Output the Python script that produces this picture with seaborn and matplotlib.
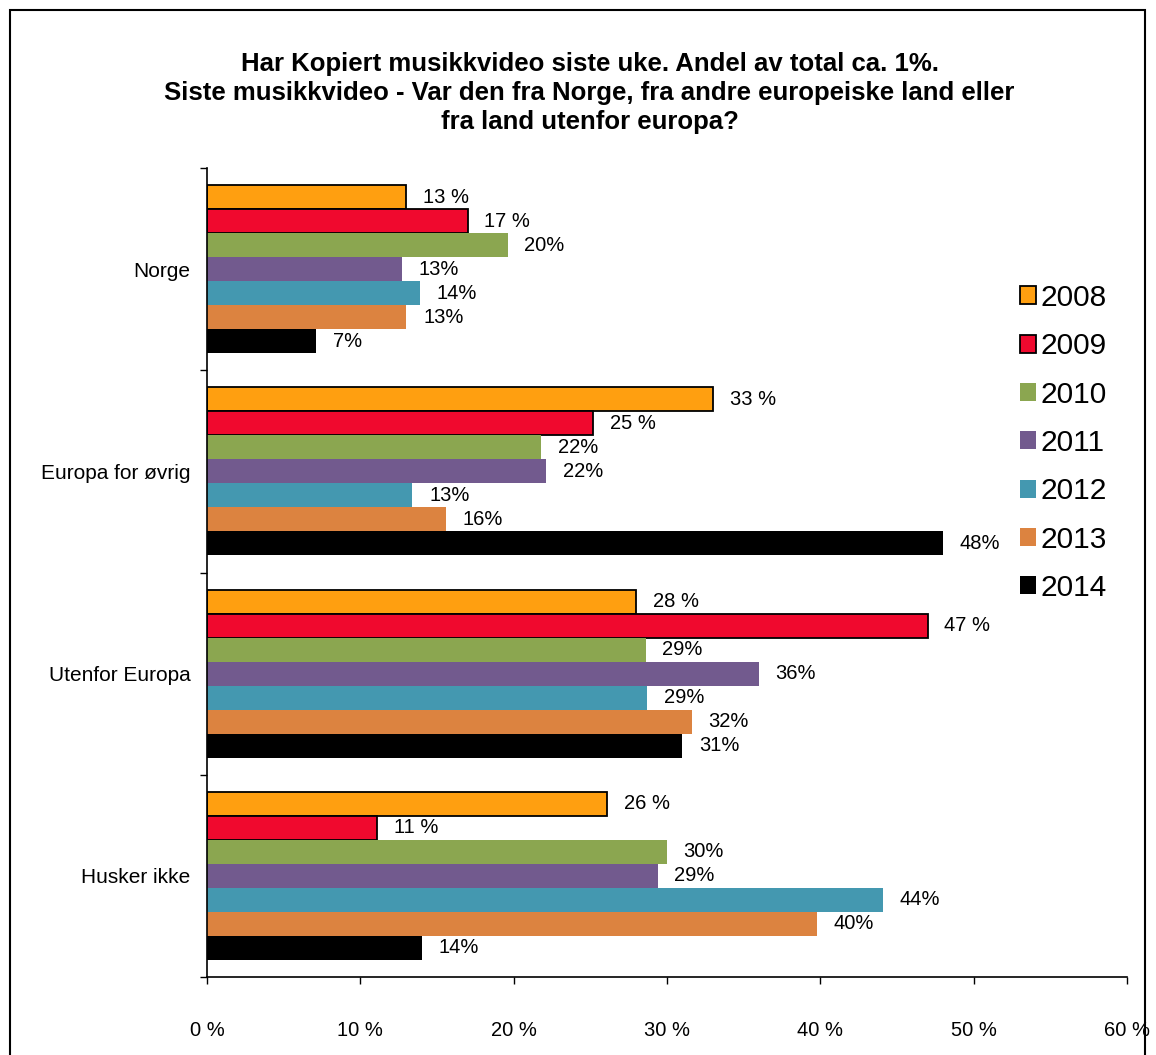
import pandas as pd
import matplotlib.pyplot as plt
import seaborn as sns
from matplotlib.patches import Patch, Rectangle

# Data lest av fra figuren (andel i prosent)
kategorier = ['Norge', 'Europa for øvrig', 'Utenfor Europa', 'Husker ikke']
aar = ['2008', '2009', '2010', '2011', '2012', '2013', '2014']
v2008 = [13.0, 33.0, 28.0, 26.1]
v2009 = [17.0, 25.2, 47.0, 11.1]
v2010 = [19.6, 21.8, 28.6, 30.0]
v2011 = [12.7, 22.1, 36.0, 29.4]
v2012 = [13.9, 13.4, 28.7, 44.1]
v2013 = [13.0, 15.6, 31.6, 39.8]
v2014 = [7.1, 48.0, 31.0, 14.0]
x_ticks = [0, 10, 20, 30, 40, 50, 60]

farger = ['#FF9F10', '#F0092E', '#8BA650', '#725A8E', '#4498B0', '#DC8340', '#000000']

serier = [v2008, v2009, v2010, v2011, v2012, v2013, v2014]
rader = []
for a, vals in zip(aar, serier):
    for k, v in zip(kategorier, vals):
        rader.append({'Kategori': k, 'År': a, 'Andel': v})
df = pd.DataFrame(rader)

sns.set_style('ticks')
plt.rcParams['font.family'] = ['Liberation Sans', 'DejaVu Sans']
plt.rcParams.update({'text.color': 'black', 'xtick.color': 'black',
                     'ytick.color': 'black', 'axes.labelcolor': 'black'})

fig = plt.figure(figsize=(11.56, 10.55), dpi=100)
ax = fig.add_axes([207 / 1156, 1 - 977 / 1055, 920 / 1156, 809 / 1055])

sns.barplot(data=df, y='Kategori', x='Andel', hue='År', order=kategorier, hue_order=aar,
            palette=farger, orient='h', width=0.83, saturation=1, legend=False, ax=ax)

# 2008 og 2009 har svart kant
for i, cont in enumerate(ax.containers):
    for bar in cont:
        if i < 2:
            bar.set_edgecolor('black')
            bar.set_linewidth(1.3)
        else:
            bar.set_edgecolor('none')
    sep = ' %' if i < 2 else '%'
    ax.bar_label(cont, labels=[f'{round(v)}{sep}' for v in serier[i]],
                 padding=12, fontsize=14.5, color='black')

ax.set_xlim(0, 60)
ax.set_ylim(3.5, -0.5)
ax.set_xticks(x_ticks)
ax.set_xticklabels([f'{t} %' for t in x_ticks], fontsize=14.5)
ax.set_yticks([-0.5, 0.5, 1.5, 2.5, 3.5])
ax.set_yticklabels([])
ax.set_yticks([0, 1, 2, 3], minor=True)
ax.set_yticklabels(kategorier, minor=True, fontsize=15)
ax.tick_params(axis='y', which='major', length=5, width=1, direction='out')
ax.tick_params(axis='y', which='minor', length=0, pad=12)
ax.tick_params(axis='x', length=5, width=1, direction='out', pad=27)
ax.set_xlabel('')
ax.set_ylabel('')
sns.despine(ax=ax)
for s in ['left', 'bottom']:
    ax.spines[s].set_color('black')
    ax.spines[s].set_linewidth(1.2)

# Legende
handles = []
for i, (a, f) in enumerate(zip(aar, farger)):
    handles.append(Patch(facecolor=f, edgecolor='black' if i < 2 else f, linewidth=1.3 if i < 2 else 0, label=a))
fig.legend(handles=handles, loc='upper left', bbox_to_anchor=(1020 / 1156, 1 - 284 / 1055),
           frameon=False, fontsize=21.5, handlelength=0.55, handleheight=0.55,
           handletextpad=0.15, labelspacing=0.68, borderpad=0, borderaxespad=0)

fig.text(0.51, 1 - 93 / 1055,
         'Har Kopiert musikkvideo siste uke. Andel av total ca. 1%.\n'
         'Siste musikkvideo - Var den fra Norge, fra andre europeiske land eller\n'
         'fra land utenfor europa?',
         ha='center', va='center', fontsize=18.5, fontweight='bold', linespacing=1.25)

# Ramme rundt hele figuren
fig.patches.append(Rectangle((10 / 1156, -0.01), 1135 / 1156, 1.01 - 10 / 1055,
                             transform=fig.transFigure, fill=False, edgecolor='black',
                             linewidth=1.5))

fig.savefig('out.png', dpi=100)
